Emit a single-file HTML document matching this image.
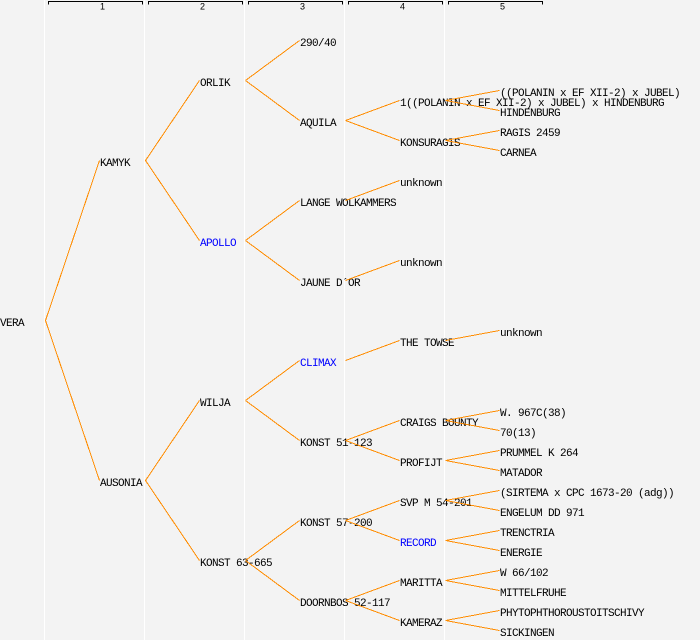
<!DOCTYPE html>
<html><head><meta charset="utf-8"><style>
html,body{margin:0;padding:0;background:#f3f3f3;}
svg{display:block;}
.t{font-family:"Liberation Mono",monospace;font-size:11px;letter-spacing:-0.6px;fill:#000;}
.b{fill:#0000ff;}
.h{font-family:"Liberation Sans",sans-serif;font-size:9px;fill:#000;}
.e{stroke:#ff8c00;stroke-width:1;fill:none;}
</style></head><body>
<svg width="700" height="640" viewBox="0 0 700 640" xmlns="http://www.w3.org/2000/svg">
<rect x="0" y="0" width="700" height="640" fill="#f3f3f3"/>
<g fill="#ffffff">
<rect x="44" y="0" width="1" height="640"/>
<rect x="144" y="0" width="1" height="640"/>
<rect x="244" y="0" width="1" height="640"/>
<rect x="344" y="0" width="1" height="640"/>
<rect x="444" y="0" width="1" height="640"/>
</g>
<g stroke="#000" stroke-width="1" fill="none" shape-rendering="crispEdges">
<path d="M48.5 4.5V1.5H142.5V4.5"/>
<path d="M148.5 4.5V1.5H242.5V4.5"/>
<path d="M248.5 4.5V1.5H342.5V4.5"/>
<path d="M348.5 4.5V1.5H442.5V4.5"/>
<path d="M448.5 4.5V1.5H542.5V4.5"/>
</g>
<g class="h">
<text x="100" y="9.5">1</text>
<text x="200" y="9.5">2</text>
<text x="300" y="9.5">3</text>
<text x="400" y="9.5">4</text>
<text x="500" y="9.5">5</text>
</g>

<g class="t">
<text x="0" y="326">VERA</text>
<text x="100" y="166">KAMYK</text>
<text x="100" y="486">AUSONIA</text>
<text x="200" y="86">ORLIK</text>
<text x="200" y="246" class="t b">APOLLO</text>
<text x="200" y="406">WILJA</text>
<text x="200" y="566">KONST 63-665</text>
<text x="300" y="46">290/40</text>
<text x="300" y="126">AQUILA</text>
<text x="300" y="206">LANGE WOLKAMMERS</text>
<text x="300" y="286">JAUNE D´OR</text>
<text x="300" y="366" class="t b">CLIMAX</text>
<text x="300" y="446">KONST 51-123</text>
<text x="300" y="526">KONST 57-200</text>
<text x="300" y="606">DOORNBOS 52-117</text>
<text x="400" y="106">1((POLANIN x EF XII-2) x JUBEL) x HINDENBURG</text>
<text x="400" y="146">KONSURAGIS</text>
<text x="400" y="186">unknown</text>
<text x="400" y="266">unknown</text>
<text x="400" y="346">THE TOWSE</text>
<text x="400" y="426">CRAIGS BOUNTY</text>
<text x="400" y="466">PROFIJT</text>
<text x="400" y="506">SVP M 54-201</text>
<text x="400" y="546" class="t b">RECORD</text>
<text x="400" y="586">MARITTA</text>
<text x="400" y="626">KAMERAZ</text>
<text x="500" y="96">((POLANIN x EF XII-2) x JUBEL)</text>
<text x="500" y="116">HINDENBURG</text>
<text x="500" y="136">RAGIS 2459</text>
<text x="500" y="156">CARNEA</text>
<text x="500" y="336">unknown</text>
<text x="500" y="416">W. 967C(38)</text>
<text x="500" y="436">70(13)</text>
<text x="500" y="456">PRUMMEL K 264</text>
<text x="500" y="476">MATADOR</text>
<text x="500" y="496">(SIRTEMA x CPC 1673-20 (adg))</text>
<text x="500" y="516">ENGELUM DD 971</text>
<text x="500" y="536">TRENCTRIA</text>
<text x="500" y="556">ENERGIE</text>
<text x="500" y="576">W 66/102</text>
<text x="500" y="596">MITTELFRUHE</text>
<text x="500" y="616">PHYTOPHTHOROUSTOITSCHIVY</text>
<text x="500" y="636">SICKINGEN</text>
</g>

<g class="e" shape-rendering="crispEdges">
<path d="M45.5 320.5L99.5 160.5M45.5 320.5L99.5 480.5"/>
<path d="M145.5 160.5L199.5 80.5M145.5 160.5L199.5 240.5"/>
<path d="M145.5 480.5L199.5 400.5M145.5 480.5L199.5 560.5"/>
<path d="M245.5 80.5L299.5 40.5M245.5 80.5L299.5 120.5"/>
<path d="M245.5 240.5L299.5 200.5M245.5 240.5L299.5 280.5"/>
<path d="M245.5 400.5L299.5 360.5M245.5 400.5L299.5 440.5"/>
<path d="M245.5 560.5L299.5 520.5M245.5 560.5L299.5 600.5"/>
<path d="M345.5 120.5L399.5 100.5M345.5 120.5L399.5 140.5"/>
<path d="M345.5 200.5L399.5 180.5"/>
<path d="M345.5 280.5L399.5 260.5"/>
<path d="M345.5 360.5L399.5 340.5"/>
<path d="M345.5 440.5L399.5 420.5M345.5 440.5L399.5 460.5"/>
<path d="M345.5 520.5L399.5 500.5M345.5 520.5L399.5 540.5"/>
<path d="M345.5 600.5L399.5 580.5M345.5 600.5L399.5 620.5"/>
<path d="M445.5 100.5L499.5 90.5M445.5 100.5L499.5 110.5"/>
<path d="M445.5 140.5L499.5 130.5M445.5 140.5L499.5 150.5"/>
<path d="M445.5 340.5L499.5 330.5"/>
<path d="M445.5 420.5L499.5 410.5M445.5 420.5L499.5 430.5"/>
<path d="M445.5 460.5L499.5 450.5M445.5 460.5L499.5 470.5"/>
<path d="M445.5 500.5L499.5 490.5M445.5 500.5L499.5 510.5"/>
<path d="M445.5 540.5L499.5 530.5M445.5 540.5L499.5 550.5"/>
<path d="M445.5 580.5L499.5 570.5M445.5 580.5L499.5 590.5"/>
<path d="M445.5 620.5L499.5 610.5M445.5 620.5L499.5 630.5"/>
</g>
</svg>
</body></html>
